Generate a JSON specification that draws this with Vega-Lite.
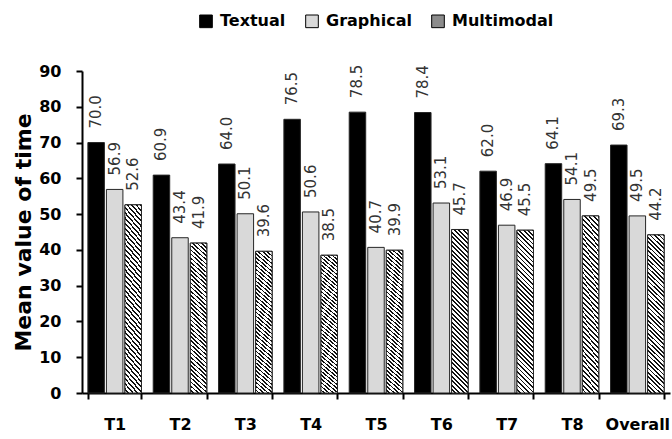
{
  "$schema": "https://vega.github.io/schema/vega-lite/v6.json",
  "width": 588,
  "height": 322,
  "autosize": {"type": "none"},
  "padding": {"left": 82, "top": 71, "right": 2, "bottom": 46},
  "background": "white",
  "config": {"view": {"stroke": null}, "font": "DejaVu Sans"},
  "data": {
    "values": [
      {"task": "T1", "series": "Textual", "value": 70.0},
      {"task": "T1", "series": "Graphical", "value": 56.9},
      {"task": "T1", "series": "Multimodal", "value": 52.6},
      {"task": "T2", "series": "Textual", "value": 60.9},
      {"task": "T2", "series": "Graphical", "value": 43.4},
      {"task": "T2", "series": "Multimodal", "value": 41.9},
      {"task": "T3", "series": "Textual", "value": 64.0},
      {"task": "T3", "series": "Graphical", "value": 50.1},
      {"task": "T3", "series": "Multimodal", "value": 39.6},
      {"task": "T4", "series": "Textual", "value": 76.5},
      {"task": "T4", "series": "Graphical", "value": 50.6},
      {"task": "T4", "series": "Multimodal", "value": 38.5},
      {"task": "T5", "series": "Textual", "value": 78.5},
      {"task": "T5", "series": "Graphical", "value": 40.7},
      {"task": "T5", "series": "Multimodal", "value": 39.9},
      {"task": "T6", "series": "Textual", "value": 78.4},
      {"task": "T6", "series": "Graphical", "value": 53.1},
      {"task": "T6", "series": "Multimodal", "value": 45.7},
      {"task": "T7", "series": "Textual", "value": 62.0},
      {"task": "T7", "series": "Graphical", "value": 46.9},
      {"task": "T7", "series": "Multimodal", "value": 45.5},
      {"task": "T8", "series": "Textual", "value": 64.1},
      {"task": "T8", "series": "Graphical", "value": 54.1},
      {"task": "T8", "series": "Multimodal", "value": 49.5},
      {"task": "Overall", "series": "Textual", "value": 69.3},
      {"task": "Overall", "series": "Graphical", "value": 49.5},
      {"task": "Overall", "series": "Multimodal", "value": 44.2}
    ]
  },
  "encoding": {
    "x": {
      "field": "task",
      "type": "nominal",
      "sort": null,
      "scale": {"paddingInner": 0.18, "paddingOuter": 0.09},
      "axis": {
        "title": null,
        "labelAngle": 0,
        "domainColor": "#000",
        "domainWidth": 2,
        "tickColor": "#000",
        "tickWidth": 2,
        "tickSize": 6,
        "tickBand": "extent",
        "labelFont": "DejaVu Sans",
        "labelFontWeight": "bold",
        "labelFontSize": 16,
        "labelColor": "#000",
        "labelPadding": 17
      }
    },
    "xOffset": {
      "field": "series",
      "type": "nominal",
      "sort": ["Textual", "Graphical", "Multimodal"],
      "scale": {"domain": ["Textual", "Graphical", "Multimodal"], "paddingInner": 0.11, "paddingOuter": 0}
    },
    "y": {
      "field": "value",
      "type": "quantitative",
      "scale": {"domain": [0, 90], "nice": false},
      "axis": {
        "values": [0, 10, 20, 30, 40, 50, 60, 70, 80, 90],
        "format": "d",
        "grid": false,
        "domainColor": "#000",
        "domainWidth": 2,
        "tickColor": "#000",
        "tickWidth": 2,
        "tickSize": 6,
        "labelFont": "DejaVu Sans",
        "labelFontWeight": "bold",
        "labelFontSize": 16,
        "labelColor": "#000",
        "labelPadding": 15,
        "title": "Mean value of time",
        "titleFont": "DejaVu Sans",
        "titleFontSize": 22,
        "titleFontWeight": "bold",
        "titleColor": "#000",
        "titlePadding": 3
      }
    }
  },
  "layer": [
    {
      "mark": {"type": "bar", "stroke": "#262626", "strokeWidth": 1},
      "encoding": {
        "fill": {
          "field": "series",
          "type": "nominal",
          "scale": {"domain": ["Textual", "Graphical", "Multimodal"], "range": ["#000000", "#d9d9d9", "#8c8c8c"]},
          "legend": {
            "orient": "none",
            "legendX": 116,
            "legendY": -58,
            "direction": "horizontal",
            "title": null,
            "symbolType": "square",
            "symbolSize": 160,
            "symbolStrokeColor": "#000",
            "symbolStrokeWidth": 1,
            "symbolOpacity": 1,
            "labelFont": "DejaVu Sans",
            "labelFontSize": 16,
            "labelFontWeight": "bold",
            "labelColor": "#000",
            "labelOffset": 6,
            "columnPadding": 17,
            "padding": 0,
            "encode": {
              "symbols": {
                "update": {
                  "stroke": {"value": "#000"},
                  "strokeWidth": {"value": 1}
                }
              }
            }
          }
        }
      }
    },
    {
      "transform": [{"filter": "datum.series === 'Multimodal'"}],
      "mark": {
        "type": "bar",
        "stroke": "#262626",
        "strokeWidth": 1,
        "fill": {
          "gradient": "linear", "x1": 1, "y1": 0, "x2": 0.8896, "y2": 1.0901,
          "stops": [
            {"offset": 0, "color": "#111"}, {"offset": 0.01, "color": "#111"}, {"offset": 0.01, "color": "#fff"}, {"offset": 0.025, "color": "#fff"},
            {"offset": 0.025, "color": "#111"}, {"offset": 0.035, "color": "#111"}, {"offset": 0.035, "color": "#fff"}, {"offset": 0.05, "color": "#fff"},
            {"offset": 0.05, "color": "#111"}, {"offset": 0.06, "color": "#111"}, {"offset": 0.06, "color": "#fff"}, {"offset": 0.075, "color": "#fff"},
            {"offset": 0.075, "color": "#111"}, {"offset": 0.085, "color": "#111"}, {"offset": 0.085, "color": "#fff"}, {"offset": 0.1, "color": "#fff"},
            {"offset": 0.1, "color": "#111"}, {"offset": 0.11, "color": "#111"}, {"offset": 0.11, "color": "#fff"}, {"offset": 0.125, "color": "#fff"},
            {"offset": 0.125, "color": "#111"}, {"offset": 0.135, "color": "#111"}, {"offset": 0.135, "color": "#fff"}, {"offset": 0.15, "color": "#fff"},
            {"offset": 0.15, "color": "#111"}, {"offset": 0.16, "color": "#111"}, {"offset": 0.16, "color": "#fff"}, {"offset": 0.175, "color": "#fff"},
            {"offset": 0.175, "color": "#111"}, {"offset": 0.185, "color": "#111"}, {"offset": 0.185, "color": "#fff"}, {"offset": 0.2, "color": "#fff"},
            {"offset": 0.2, "color": "#111"}, {"offset": 0.21, "color": "#111"}, {"offset": 0.21, "color": "#fff"}, {"offset": 0.225, "color": "#fff"},
            {"offset": 0.225, "color": "#111"}, {"offset": 0.235, "color": "#111"}, {"offset": 0.235, "color": "#fff"}, {"offset": 0.25, "color": "#fff"},
            {"offset": 0.25, "color": "#111"}, {"offset": 0.26, "color": "#111"}, {"offset": 0.26, "color": "#fff"}, {"offset": 0.275, "color": "#fff"},
            {"offset": 0.275, "color": "#111"}, {"offset": 0.285, "color": "#111"}, {"offset": 0.285, "color": "#fff"}, {"offset": 0.3, "color": "#fff"},
            {"offset": 0.3, "color": "#111"}, {"offset": 0.31, "color": "#111"}, {"offset": 0.31, "color": "#fff"}, {"offset": 0.325, "color": "#fff"},
            {"offset": 0.325, "color": "#111"}, {"offset": 0.335, "color": "#111"}, {"offset": 0.335, "color": "#fff"}, {"offset": 0.35, "color": "#fff"},
            {"offset": 0.35, "color": "#111"}, {"offset": 0.36, "color": "#111"}, {"offset": 0.36, "color": "#fff"}, {"offset": 0.375, "color": "#fff"},
            {"offset": 0.375, "color": "#111"}, {"offset": 0.385, "color": "#111"}, {"offset": 0.385, "color": "#fff"}, {"offset": 0.4, "color": "#fff"},
            {"offset": 0.4, "color": "#111"}, {"offset": 0.41, "color": "#111"}, {"offset": 0.41, "color": "#fff"}, {"offset": 0.425, "color": "#fff"},
            {"offset": 0.425, "color": "#111"}, {"offset": 0.435, "color": "#111"}, {"offset": 0.435, "color": "#fff"}, {"offset": 0.45, "color": "#fff"},
            {"offset": 0.45, "color": "#111"}, {"offset": 0.46, "color": "#111"}, {"offset": 0.46, "color": "#fff"}, {"offset": 0.475, "color": "#fff"},
            {"offset": 0.475, "color": "#111"}, {"offset": 0.485, "color": "#111"}, {"offset": 0.485, "color": "#fff"}, {"offset": 0.5, "color": "#fff"},
            {"offset": 0.5, "color": "#111"}, {"offset": 0.51, "color": "#111"}, {"offset": 0.51, "color": "#fff"}, {"offset": 0.525, "color": "#fff"},
            {"offset": 0.525, "color": "#111"}, {"offset": 0.535, "color": "#111"}, {"offset": 0.535, "color": "#fff"}, {"offset": 0.55, "color": "#fff"},
            {"offset": 0.55, "color": "#111"}, {"offset": 0.56, "color": "#111"}, {"offset": 0.56, "color": "#fff"}, {"offset": 0.575, "color": "#fff"},
            {"offset": 0.575, "color": "#111"}, {"offset": 0.585, "color": "#111"}, {"offset": 0.585, "color": "#fff"}, {"offset": 0.6, "color": "#fff"},
            {"offset": 0.6, "color": "#111"}, {"offset": 0.61, "color": "#111"}, {"offset": 0.61, "color": "#fff"}, {"offset": 0.625, "color": "#fff"},
            {"offset": 0.625, "color": "#111"}, {"offset": 0.635, "color": "#111"}, {"offset": 0.635, "color": "#fff"}, {"offset": 0.65, "color": "#fff"},
            {"offset": 0.65, "color": "#111"}, {"offset": 0.66, "color": "#111"}, {"offset": 0.66, "color": "#fff"}, {"offset": 0.675, "color": "#fff"},
            {"offset": 0.675, "color": "#111"}, {"offset": 0.685, "color": "#111"}, {"offset": 0.685, "color": "#fff"}, {"offset": 0.7, "color": "#fff"},
            {"offset": 0.7, "color": "#111"}, {"offset": 0.71, "color": "#111"}, {"offset": 0.71, "color": "#fff"}, {"offset": 0.725, "color": "#fff"},
            {"offset": 0.725, "color": "#111"}, {"offset": 0.735, "color": "#111"}, {"offset": 0.735, "color": "#fff"}, {"offset": 0.75, "color": "#fff"},
            {"offset": 0.75, "color": "#111"}, {"offset": 0.76, "color": "#111"}, {"offset": 0.76, "color": "#fff"}, {"offset": 0.775, "color": "#fff"},
            {"offset": 0.775, "color": "#111"}, {"offset": 0.785, "color": "#111"}, {"offset": 0.785, "color": "#fff"}, {"offset": 0.8, "color": "#fff"},
            {"offset": 0.8, "color": "#111"}, {"offset": 0.81, "color": "#111"}, {"offset": 0.81, "color": "#fff"}, {"offset": 0.825, "color": "#fff"},
            {"offset": 0.825, "color": "#111"}, {"offset": 0.835, "color": "#111"}, {"offset": 0.835, "color": "#fff"}, {"offset": 0.85, "color": "#fff"},
            {"offset": 0.85, "color": "#111"}, {"offset": 0.86, "color": "#111"}, {"offset": 0.86, "color": "#fff"}, {"offset": 0.875, "color": "#fff"},
            {"offset": 0.875, "color": "#111"}, {"offset": 0.885, "color": "#111"}, {"offset": 0.885, "color": "#fff"}, {"offset": 0.9, "color": "#fff"},
            {"offset": 0.9, "color": "#111"}, {"offset": 0.91, "color": "#111"}, {"offset": 0.91, "color": "#fff"}, {"offset": 0.925, "color": "#fff"},
            {"offset": 0.925, "color": "#111"}, {"offset": 0.935, "color": "#111"}, {"offset": 0.935, "color": "#fff"}, {"offset": 0.95, "color": "#fff"},
            {"offset": 0.95, "color": "#111"}, {"offset": 0.96, "color": "#111"}, {"offset": 0.96, "color": "#fff"}, {"offset": 0.975, "color": "#fff"},
            {"offset": 0.975, "color": "#111"}, {"offset": 0.985, "color": "#111"}, {"offset": 0.985, "color": "#fff"}, {"offset": 1, "color": "#fff"}
          ]
        }
      },
      "encoding": {}
    },
    {
      "mark": {"type": "text", "angle": 270, "align": "left", "baseline": "middle", "dx": 14, "font": "DejaVu Sans", "fontSize": 15, "color": "#333"},
      "encoding": {
        "text": {"field": "value", "type": "quantitative", "format": ".1f"}
      }
    }
  ]
}
